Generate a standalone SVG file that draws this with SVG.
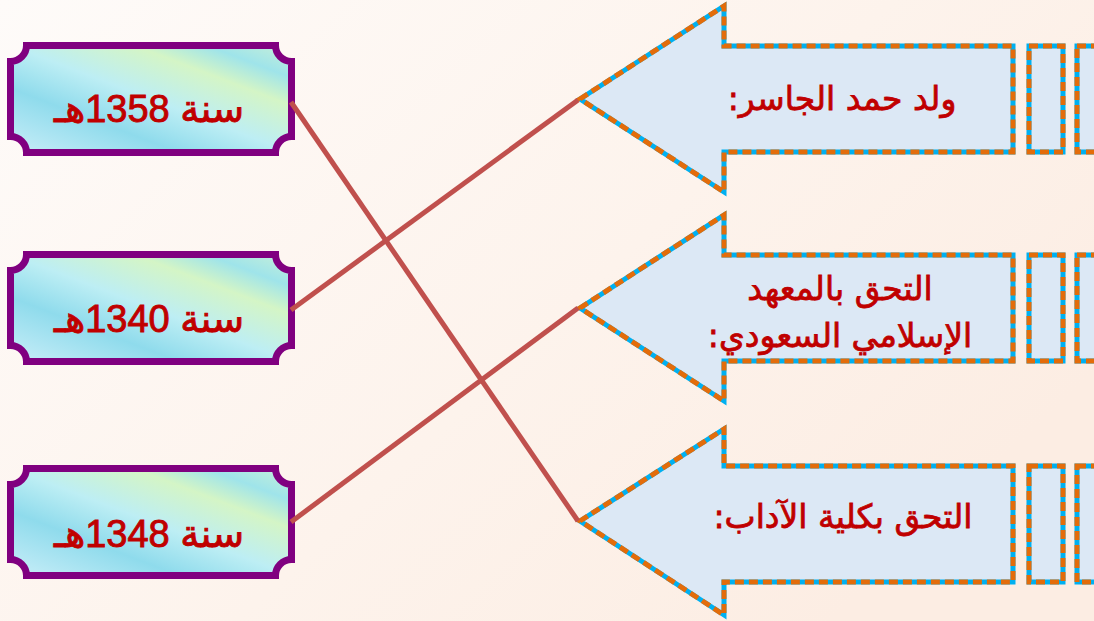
<svg xmlns="http://www.w3.org/2000/svg" width="1094" height="621" viewBox="0 0 1094 621">
<defs>
<linearGradient id="bg" x1="0" y1="0" x2="1" y2="0.6">
<stop offset="0" stop-color="#fefbf9"/>
<stop offset="0.6" stop-color="#fdf3ec"/>
<stop offset="1" stop-color="#fcede3"/>
</linearGradient>
<linearGradient id="water" x1="0" y1="1" x2="1" y2="0">
<stop offset="0" stop-color="#c9eef8"/>
<stop offset="0.3" stop-color="#8fdbec"/>
<stop offset="0.5" stop-color="#bdeef4"/>
<stop offset="0.72" stop-color="#d4f5c6"/>
<stop offset="0.85" stop-color="#9fe4ea"/>
<stop offset="1" stop-color="#c8f0d8"/>
</linearGradient>
<path id="frame" d="M26.5 45.5 H275.5 A16 16 0 0 0 291.5 61.5 V136.5 A16 16 0 0 0 275.5 152.5 H26.5 A16 16 0 0 0 10.5 136.5 V61.5 A16 16 0 0 0 26.5 45.5 Z"/>
<g id="arrowShape">
<path d="M580 99 L724 6 V46 H1013 V152 H724 V192 Z"/>
<rect x="1029" y="46" width="34" height="106"/>
<rect x="1077" y="46" width="40" height="106"/>
</g>
<g id="arrowShapeTall">
<path d="M580 521 L724 429 V466 H1013 V582 H724 V615 Z"/>
<rect x="1029" y="466" width="34" height="116"/>
<rect x="1077" y="466" width="40" height="116"/>
</g>
</defs>
<style>
.box{fill:url(#water);stroke:#800080;stroke-width:7}
.yr{font-family:"Liberation Sans","DejaVu Sans",sans-serif;font-size:38px;fill:#c00000;stroke:#c00000;stroke-width:0.9;text-anchor:middle}
.arrBase{fill:#dce8f5;stroke:#00b0f0;stroke-width:5;stroke-linejoin:miter}
.arrDash{fill:none;stroke:#e36c0a;stroke-width:5;stroke-dasharray:9 5}
.lbl{font-family:"DejaVu Sans",sans-serif;font-size:33px;fill:#c00000;stroke:#c00000;stroke-width:0.8;text-anchor:middle}
.conn{stroke:#c0504d;stroke-width:5;fill:none}
</style>
<rect width="1094" height="621" fill="url(#bg)"/>
<g id="arrow1">
<use href="#arrowShape" class="arrBase"/>
<use href="#arrowShape" class="arrDash"/>
<text class="lbl" x="842" y="110" direction="rtl">ولد حمد الجاسر:</text>
</g>
<g id="arrow2">
<use href="#arrowShape" class="arrBase" transform="translate(0,209)"/>
<use href="#arrowShape" class="arrDash" transform="translate(0,209)"/>
<text class="lbl" x="840" y="300" direction="rtl">التحق بالمعهد</text>
<text class="lbl" x="840" y="347" direction="rtl">الإسلامي السعودي:</text>
</g>
<g id="arrow3">
<use href="#arrowShapeTall" class="arrBase"/>
<use href="#arrowShapeTall" class="arrDash"/>
<text class="lbl" x="843" y="528" direction="rtl">التحق بكلية الآداب:</text>
</g>
<g id="box1358">
<use href="#frame" class="box"/>
<text class="yr" x="149" y="122" direction="rtl">سنة 1358هـ</text>
</g>
<g id="box1340">
<use href="#frame" class="box" transform="translate(0,209)"/>
<text class="yr" x="149" y="332" direction="rtl">سنة 1340هـ</text>
</g>
<g id="box1348">
<use href="#frame" class="box" transform="translate(0,423)"/>
<text class="yr" x="149" y="547" direction="rtl">سنة 1348هـ</text>
</g>
<g id="connectors">
<line class="conn" x1="291" y1="102" x2="578" y2="521"/>
<line class="conn" x1="291" y1="310" x2="578" y2="100"/>
<line class="conn" x1="291" y1="522" x2="578" y2="308"/>
</g>
</svg>
